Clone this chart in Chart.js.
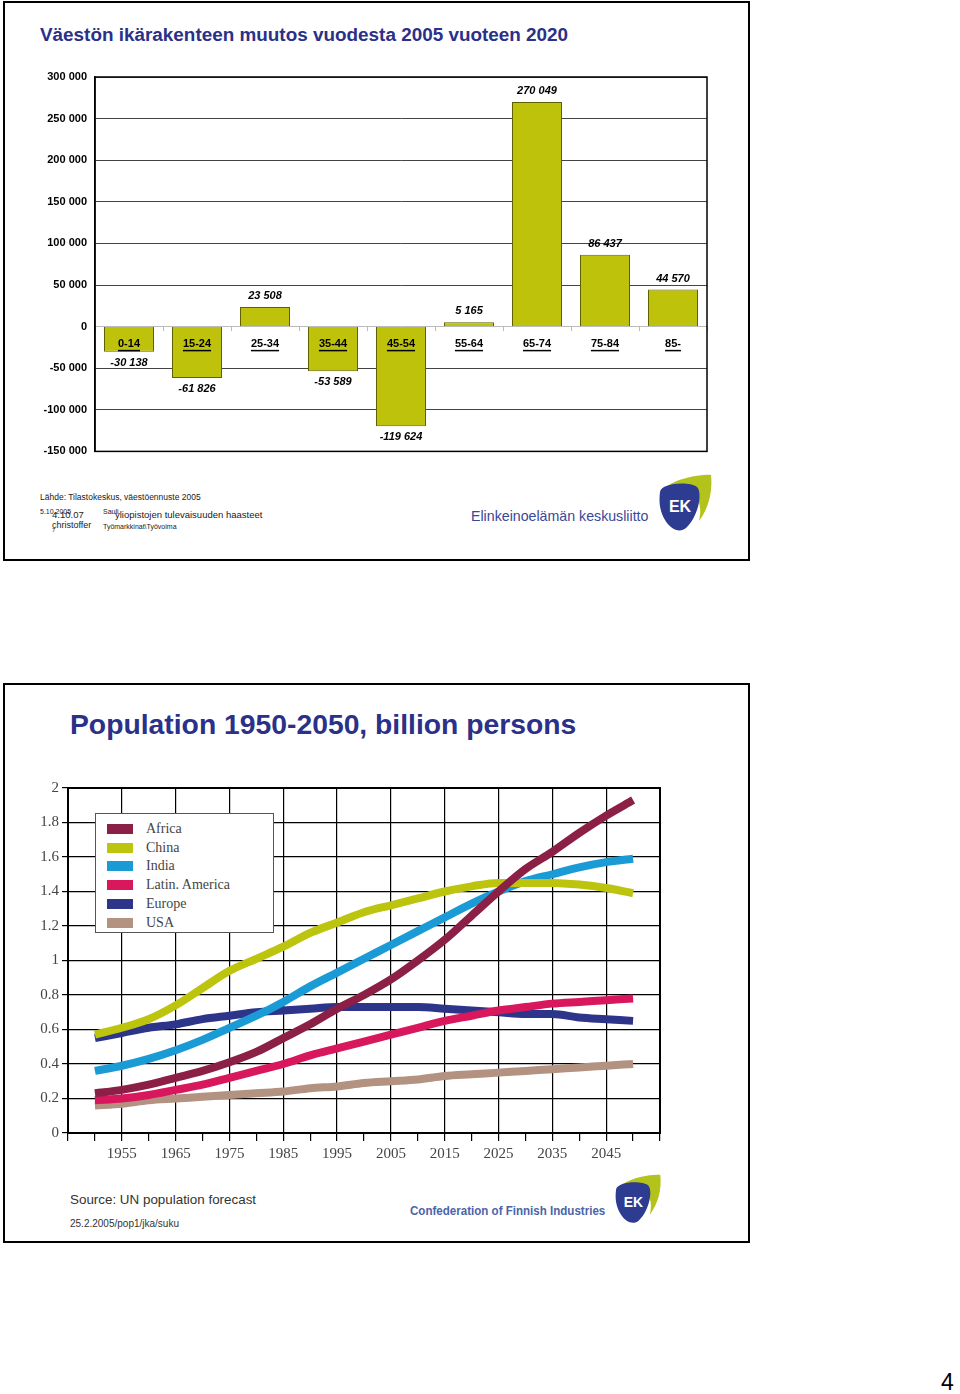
<!DOCTYPE html>
<html>
<head>
<meta charset="utf-8">
<script src="https://cdn.jsdelivr.net/npm/chart.js@4.4.1/dist/chart.umd.min.js"></script>
<style>
  body { margin: 0; background: #fff; font-family: "Liberation Sans", Arial, sans-serif; }
  #page { position: relative; width: 960px; height: 1394px; overflow: hidden; }
  .frame { position: absolute; border: 2px solid #000; box-sizing: border-box; }
  .t { position: absolute; white-space: nowrap; line-height: 1; }
  canvas { position: absolute; }
  .legend { position: absolute; left: 95px; top: 813px; width: 179px; height: 120px; border: 1px solid #555;
            background: #fff; box-sizing: border-box; font-family: "Liberation Serif", "Times New Roman", serif; }
  .legend .row { position: absolute; left: 11px; height: 12px; }
  .legend .sw { position: absolute; left: 0; top: 1px; width: 26px; height: 10px; }
  .legend .lb { position: absolute; left: 39px; top: -2px; font-size: 14px; color: #444; white-space: nowrap; }
</style>
</head>
<body>
<div id="page">
  <div class="frame" style="left:3px;top:1px;width:747px;height:560px;"></div>
  <div class="t" style="left:40px;top:26px;font-size:18.9px;font-weight:bold;color:#2b3088;">Väestön ikärakenteen muutos vuodesta 2005 vuoteen 2020</div>
  <canvas id="c1" width="750" height="406" style="left:0;top:60px;"></canvas>

  <div class="t" style="left:40px;top:493px;font-size:8.5px;color:#222;">Lähde: Tilastokeskus, väestöennuste 2005</div>
  <div class="t" style="left:40px;top:508px;font-size:7px;color:#222;">5.10.2005</div>
  <div class="t" style="left:52px;top:510px;font-size:9.5px;color:#222;">4.10.07</div>
  <div class="t" style="left:103px;top:508px;font-size:7px;color:#222;">Sauli</div>
  <div class="t" style="left:115px;top:510px;font-size:9.5px;color:#222;">yliopistojen tulevaisuuden haasteet</div>
  <div class="t" style="left:52px;top:521px;font-size:9px;color:#222;">christoffer</div>
  <div class="t" style="left:52px;top:527px;font-size:6px;color:#222;">7</div>
  <div class="t" style="left:103px;top:523px;font-size:7px;color:#222;">Työmarkkinat\Työvoima</div>
  <div class="t" style="left:471px;top:509px;font-size:14.2px;color:#3a4796;">Elinkeinoelämän keskusliitto</div>
  <svg style="position:absolute;left:653px;top:473px;" width="60" height="62" viewBox="0 0 60 62">
    <path d="M14 13 C28 4 50 1 58 2 C60 20 55 36 46 48 C50 30 46 16 14 13 Z" fill="#b4c21c"/>
    <path d="M7 19 C8 10 36 8 44 14 C50 20 45 44 33 55 C27 60 18 57 12 47 C6 37 6 27 7 19 Z" fill="#2d3b90"/>
    <text x="27" y="39" fill="#fff" font-family="Liberation Sans, Arial" font-weight="bold" font-size="16" text-anchor="middle">EK</text>
  </svg>

  <div class="frame" style="left:3px;top:683px;width:747px;height:560px;"></div>
  <div class="t" style="left:70px;top:710px;font-size:28.3px;font-weight:bold;color:#2b3088;">Population 1950-2050, billion persons</div>
  <canvas id="c2" width="750" height="403" style="left:0;top:770px;"></canvas>
  <div class="legend" id="legend"></div>

  <div class="t" style="left:70px;top:1193px;font-size:13.4px;color:#333;">Source: UN population forecast</div>
  <div class="t" style="left:70px;top:1219px;font-size:10px;color:#333;">25.2.2005/pop1/jka/suku</div>
  <div class="t" style="left:410px;top:1205px;font-size:12.5px;font-weight:bold;color:#4a64a8;transform:scaleX(0.925);transform-origin:left;">Confederation of Finnish Industries</div>
  <svg style="position:absolute;left:610px;top:1173px;" width="52" height="54" viewBox="0 0 60 62">
    <path d="M14 13 C28 4 50 1 58 2 C60 20 55 36 46 48 C50 30 46 16 14 13 Z" fill="#b4c21c"/>
    <path d="M7 19 C8 10 36 8 44 14 C50 20 45 44 33 55 C27 60 18 57 12 47 C6 37 6 27 7 19 Z" fill="#2d3b90"/>
    <text x="27" y="39" fill="#fff" font-family="Liberation Sans, Arial" font-weight="bold" font-size="16" text-anchor="middle">EK</text>
  </svg>

  <div class="t" style="left:941px;top:1371px;font-size:23px;color:#000;">4</div>
</div>

<script>
// --- chart 1 data: change in population by age group 2005 -> 2020
const ageGroups = ['0-14', '15-24', '25-34', '35-44', '45-54', '55-64', '65-74', '75-84', '85-'];
const changes = [-30138, -61826, 23508, -53589, -119624, 5165, 270049, 86437, 44570];

// --- chart 2 data: population 1950-2050, billion persons
const years = [1950, 1955, 1960, 1965, 1970, 1975, 1980, 1985, 1990, 1995, 2000,
               2005, 2010, 2015, 2020, 2025, 2030, 2035, 2040, 2045, 2050];
const regions = ['Africa', 'China', 'India', 'Latin. America', 'Europe', 'USA'];
const africa = [0.23, 0.25, 0.28, 0.32, 0.36, 0.41, 0.47, 0.55, 0.63, 0.72, 0.80,
                0.89, 1.00, 1.12, 1.26, 1.40, 1.53, 1.63, 1.74, 1.84, 1.93];
const china = [0.57, 0.61, 0.66, 0.74, 0.84, 0.94, 1.01, 1.08, 1.16, 1.22, 1.28,
               1.32, 1.36, 1.40, 1.43, 1.45, 1.45, 1.45, 1.44, 1.42, 1.39];
const india = [0.36, 0.39, 0.43, 0.48, 0.54, 0.61, 0.68, 0.76, 0.85, 0.93, 1.01,
               1.09, 1.17, 1.25, 1.33, 1.40, 1.46, 1.50, 1.54, 1.57, 1.59];
const latinAmerica = [0.19, 0.20, 0.22, 0.25, 0.28, 0.32, 0.36, 0.40, 0.45, 0.49, 0.53,
                      0.57, 0.61, 0.65, 0.68, 0.71, 0.73, 0.75, 0.76, 0.77, 0.78];
const europe = [0.55, 0.58, 0.61, 0.63, 0.66, 0.68, 0.70, 0.71, 0.72, 0.73, 0.73,
                0.73, 0.73, 0.72, 0.71, 0.70, 0.69, 0.69, 0.67, 0.66, 0.65];
const usa = [0.16, 0.17, 0.19, 0.20, 0.21, 0.22, 0.23, 0.24, 0.26, 0.27, 0.29,
             0.30, 0.31, 0.33, 0.34, 0.35, 0.36, 0.37, 0.38, 0.39, 0.40];
const regionColors = ['#8c1f46', '#bcc40e', '#1a9bd5', '#d8175d', '#2c358a', '#b39282'];

Chart.defaults.font.family = '"Liberation Sans", Arial, sans-serif';
Chart.defaults.animation = false;

function fmt(v) {
  const s = Math.abs(v).toString().replace(/\B(?=(\d{3})+(?!\d))/g, ' ');
  return (v < 0 ? '-' : '') + s;
}

// box round the plot area
function boxPlugin(width) {
  return {
    id: 'box',
    afterDraw(chart) {
      const a = chart.chartArea, ctx = chart.ctx;
      ctx.save();
      ctx.strokeStyle = '#000';
      ctx.lineWidth = width;
      ctx.strokeRect(a.left, a.top, a.right - a.left, a.bottom - a.top);
      ctx.restore();
    }
  };
}

// value labels over / under the bars
const valueLabels = {
  id: 'valueLabels',
  afterDatasetsDraw(chart) {
    const ctx = chart.ctx;
    const meta = chart.getDatasetMeta(0);
    ctx.save();
    ctx.font = 'italic bold 11px "Liberation Sans", Arial, sans-serif';
    ctx.fillStyle = '#000';
    ctx.textAlign = 'center';
    ctx.textBaseline = 'middle';
    meta.data.forEach((bar, i) => {
      const v = changes[i];
      ctx.fillText(fmt(v), bar.x, v >= 0 ? bar.y - 11 : bar.y + 11);
    });
    ctx.restore();
  }
};

// underline the category labels
const underline = {
  id: 'underline',
  afterDraw(chart) {
    const ctx = chart.ctx, xs = chart.scales.x, ys = chart.scales.y;
    const y0 = ys.getPixelForValue(0) + 24;
    ctx.save();
    ctx.font = 'bold 11px "Liberation Sans", Arial, sans-serif';
    ctx.strokeStyle = '#000';
    ctx.lineWidth = 1.5;
    ageGroups.forEach((g, i) => {
      const x = xs.getPixelForTick(i);
      const w = ctx.measureText(g).width;
      ctx.beginPath();
      ctx.moveTo(x - w / 2, y0);
      ctx.lineTo(x + w / 2, y0);
      ctx.stroke();
    });
    ctx.restore();
  }
};

new Chart(document.getElementById('c1'), {
  type: 'bar',
  data: {
    labels: ageGroups,
    datasets: [{
      data: changes,
      backgroundColor: '#bec20a',
      borderColor: '#5f6000',
      borderWidth: 1,
      barPercentage: 0.735,
      categoryPercentage: 1
    }]
  },
  options: {
    responsive: false,
    layout: { padding: { top: 17, right: 43, bottom: 10, left: 0 } },
    plugins: { legend: { display: false }, tooltip: { enabled: false } },
    scales: {
      x: {
        position: { y: 0 },
        grid: { display: true, drawOnChartArea: false, offset: true, tickLength: 4, color: '#bbb' },
        border: { color: '#bbb', width: 1 },
        ticks: { z: 1, padding: 7, color: '#000', font: { size: 11, weight: 'bold' } }
      },
      y: {
        min: -150000,
        max: 300000,
        afterFit(s) { s.width = 95; },
        ticks: { stepSize: 50000, padding: 8, color: '#000', font: { size: 11, weight: 'bold' }, callback: v => fmt(v) },
        grid: { drawTicks: false, color: c => (c.tick && c.tick.value === 0) ? 'rgba(0,0,0,0)' : '#444', lineWidth: 1 },
        border: { color: '#000', width: 1.5 }
      }
    }
  },
  plugins: [valueLabels, underline, boxPlugin(1.5)]
});

// legend (html)
const legend = document.getElementById('legend');
regions.forEach((r, i) => {
  const row = document.createElement('div');
  row.className = 'row';
  row.style.top = (9 + i * 18.7) + 'px';
  row.innerHTML = '<div class="sw" style="background:' + regionColors[i] + '"></div><div class="lb">' + r + '</div>';
  legend.appendChild(row);
});

const series = [africa, china, india, latinAmerica, europe, usa];

new Chart(document.getElementById('c2'), {
  type: 'line',
  data: {
    datasets: series.map((s, i) => ({
      label: regions[i],
      data: s.map((v, j) => ({ x: years[j], y: v })),
      borderColor: regionColors[i],
      borderWidth: 8,
      pointRadius: 0,
      tension: 0.4,
      cubicInterpolationMode: 'monotone',
      fill: false
    }))
  },
  options: {
    responsive: false,
    layout: { padding: { top: 18, right: 90, bottom: 0, left: 0 } },
    plugins: { legend: { display: false }, tooltip: { enabled: false } },
    scales: {
      x: {
        type: 'linear',
        min: 1945,
        max: 2055,
        afterFit(s) { s.height = 40; },
        ticks: {
          stepSize: 5, autoSkip: false, maxRotation: 0, padding: 4, color: '#444',
          font: { family: '"Liberation Serif", "Times New Roman", serif', size: 15 },
          callback: v => (v % 10 === 5 && v > 1945 && v < 2055) ? String(v) : ''
        },
        grid: {
          color: c => (c.tick && c.tick.value % 10 === 5) ? '#000' : 'rgba(0,0,0,0)',
          tickColor: '#000', tickLength: 8, lineWidth: 1.2
        },
        border: { color: '#000', width: 2 }
      },
      y: {
        min: 0,
        max: 2,
        afterFit(s) { s.width = 68; },
        ticks: {
          stepSize: 0.2, padding: 3, color: '#444',
          font: { family: '"Liberation Serif", "Times New Roman", serif', size: 15 },
          callback: v => String(+v.toFixed(1))
        },
        grid: { color: '#000', tickColor: '#000', tickLength: 6, lineWidth: 1.2 },
        border: { color: '#000', width: 2 }
      }
    }
  },
  plugins: [boxPlugin(2)]
});
</script>
</body>
</html>
